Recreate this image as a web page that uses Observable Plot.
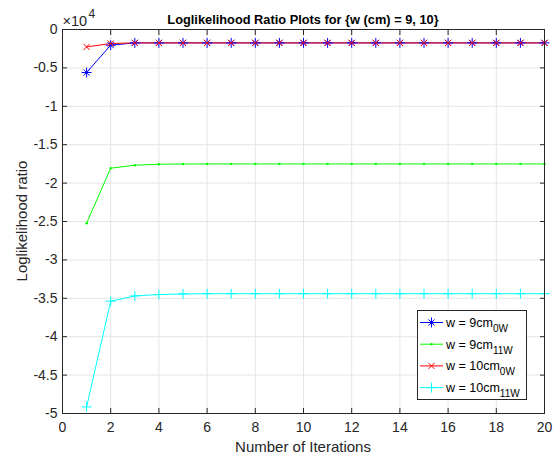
<!DOCTYPE html>
<html><head><meta charset="utf-8">
<script src="https://cdn.jsdelivr.net/npm/d3@7"></script>
<script src="https://cdn.jsdelivr.net/npm/@observablehq/plot@0.6"></script>
<style>
html,body{margin:0;padding:0;background:#fff;}
#chart{width:556px;height:458px;}
svg{font-family:"Liberation Sans",Arial,Helvetica,sans-serif;}
</style></head><body><div id="chart"></div>
<script>
const iterations = [1,2,3,4,5,6,7,8,9,10,11,12,13,14,15,16,17,18,19,20];
const w9_0W  = [-5600,-2040,-1745,-1745,-1745,-1745,-1745,-1745,-1745,-1745,-1745,-1745,-1745,-1745,-1745,-1745,-1745,-1745,-1745,-1745];
const w9_11W = [-25220,-18060,-17670,-17540,-17520,-17500,-17500,-17500,-17500,-17500,-17500,-17500,-17500,-17500,-17500,-17500,-17500,-17500,-17500,-17500];
const w10_0W = [-2270,-1820,-1745,-1745,-1745,-1745,-1745,-1745,-1745,-1745,-1745,-1745,-1745,-1745,-1745,-1745,-1745,-1745,-1745,-1745];
const w10_11W= [-49140,-35380,-34690,-34510,-34430,-34400,-34400,-34400,-34400,-34400,-34400,-34400,-34400,-34400,-34400,-34400,-34400,-34400,-34400,-34400];

const seriesValues = [w9_0W, w9_11W, w10_0W, w10_11W];
const legendMain = ["w = 9cm","w = 9cm","w = 10cm","w = 10cm"];
const legendSub  = ["0W","11W","0W","11W"];
const colors  = ["#0000ff","#00ff00","#ff0000","#00ffff"];
const markers = ["asterisk","point","times","plus"];

const xTicks = [0,2,4,6,8,10,12,14,16,18,20];
const yTicks = [-50000,-45000,-40000,-35000,-30000,-25000,-20000,-15000,-10000,-5000,0];
const yTickLabels = ["-5","-4.5","-4","-3.5","-3","-2.5","-2","-1.5","-1","-0.5","0"];

const titleText = "Loglikelihood Ratio Plots for {w (cm) = 9, 10}";
const xLabel = "Number of Iterations";
const yLabel = "Loglikelihood ratio";
const exponentBase = "\u00d710", exponentPow = "4";

const rows = [];
seriesValues.forEach((vals, s) => vals.forEach((v, i) => rows.push({s, iter: iterations[i], v})));

const ink = "#262626";
const gridC = "#e5e5e5";
const rPlus = 3.3, rTimes = 2.9;
const marks = [
  Plot.gridX(xTicks, {stroke: gridC, strokeOpacity: 1}),
  Plot.gridY(yTicks, {stroke: gridC, strokeOpacity: 1}),
];
seriesValues.forEach((vals, s) => {
  const data = rows.filter(r => r.s === s);
  marks.push(Plot.line(data, {x: "iter", y: "v", stroke: colors[s], strokeWidth: 1}));
});
seriesValues.forEach((vals, s) => {
  const data = rows.filter(r => r.s === s);
  const m = markers[s];
  if (m === "asterisk") {
    marks.push(Plot.dot(data, {x: "iter", y: "v", symbol: "plus", r: rPlus, stroke: colors[s], strokeWidth: 1}));
    marks.push(Plot.dot(data, {x: "iter", y: "v", symbol: "times", r: rTimes, stroke: colors[s], strokeWidth: 1}));
  } else if (m === "times") {
    marks.push(Plot.dot(data, {x: "iter", y: "v", symbol: "times", r: rTimes, stroke: colors[s], strokeWidth: 1}));
  } else if (m === "plus") {
    marks.push(Plot.dot(data, {x: "iter", y: "v", symbol: "plus", r: rPlus, stroke: colors[s], strokeWidth: 1}));
  } else {
    marks.push(Plot.dot(data, {x: "iter", y: "v", r: 1.2, fill: colors[s], stroke: null}));
  }
});
marks.push(
  Plot.frame({stroke: ink, strokeWidth: 1}),
  Plot.axisX(xTicks, {anchor: "bottom", tickSize: 0, tickPadding: 9, label: null, tickFormat: d => String(d), fontSize: 14, fill: ink}),
  Plot.axisX(xTicks, {anchor: "bottom", tickSize: -5, label: null, tickFormat: () => "", stroke: ink}),
  Plot.axisX(xTicks, {anchor: "top", tickSize: -5, label: null, tickFormat: () => "", stroke: ink}),
  Plot.axisY(yTicks, {anchor: "left", tickSize: 0, tickPadding: 5, label: null, tickFormat: d => yTickLabels[yTicks.indexOf(d)], fontSize: 14, fill: ink}),
  Plot.axisY(yTicks, {anchor: "left", tickSize: -5, label: null, tickFormat: () => "", stroke: ink}),
  Plot.axisY(yTicks, {anchor: "right", tickSize: -5, label: null, tickFormat: () => "", stroke: ink})
);

const plot = Plot.plot({
  width: 556, height: 458,
  marginLeft: 62, marginRight: 12, marginTop: 29, marginBottom: 45,
  style: {fontFamily: '"Liberation Sans",Arial,Helvetica,sans-serif', fontSize: "14px", color: ink, background: "#fff", overflow: "visible"},
  x: {domain: [0, 20]},
  y: {domain: [-50000, 0]},
  marks
});
document.getElementById("chart").appendChild(plot);

const svg = d3.select(plot);
const [xl, xr] = plot.scale("x").range;
const yr = plot.scale("y").range;
const yb = Math.max(...yr), yt = Math.min(...yr);
const font = '"Liberation Sans",Arial,Helvetica,sans-serif';

svg.append("text").attr("x", (xl + xr) / 2).attr("y", yt - 5.5)
  .attr("text-anchor", "middle").attr("font-weight", "bold").style("font-size", "12.8px")
  .attr("fill", "#000").attr("font-family", font).text(titleText);

const ex = svg.append("text").attr("x", xl + 0.5).attr("y", yt - 3.5).attr("text-anchor", "start")
  .style("font-size", "14.5px").attr("fill", ink).attr("font-family", font);
ex.append("tspan").style("font-size", "14.5px").text(exponentBase);
ex.append("tspan").style("font-size", "12px").attr("dy", -8).attr("dx", 1.5).text(exponentPow);

svg.append("text").attr("x", (xl + xr) / 2).attr("y", yb + 39)
  .attr("text-anchor", "middle").attr("font-size", 15).attr("fill", ink)
  .attr("font-family", font).text(xLabel);

svg.append("text").attr("transform", `translate(27,${(yt + yb) / 2}) rotate(-90)`)
  .attr("text-anchor", "middle").attr("font-size", 15).attr("fill", ink)
  .attr("font-family", font).text(yLabel);

// Legend
const lgR = xr - 18, lgB = yb - 14, lgW = 109, lgH = 89;
const lgX = lgR - lgW, lgY = lgB - lgH;
const lg = svg.append("g");
lg.append("rect").attr("x", lgX + 0.5).attr("y", lgY + 0.5).attr("width", lgW).attr("height", lgH)
  .attr("fill", "#fff").attr("stroke", ink).attr("stroke-width", 1);
const rowY = i => lgY + 12.5 + i * 21.7;
legendMain.forEach((t, i) => {
  const cy = rowY(i);
  const c = colors[i];
  lg.append("line").attr("x1", lgX + 3).attr("x2", lgX + 26).attr("y1", cy).attr("y2", cy)
    .attr("stroke", c).attr("stroke-width", 1);
  const mx = lgX + 14.5;
  const sym = (type, size) => lg.append("path").attr("d", d3.symbol(type, size)())
    .attr("transform", `translate(${mx},${cy})`).attr("fill", "none").attr("stroke", c).attr("stroke-width", 1);
  if (markers[i] === "asterisk") { sym(d3.symbolPlus, Math.PI * rPlus * rPlus); sym(d3.symbolTimes, Math.PI * rTimes * rTimes); }
  else if (markers[i] === "times") sym(d3.symbolTimes, Math.PI * rTimes * rTimes);
  else if (markers[i] === "plus") sym(d3.symbolPlus, Math.PI * rPlus * rPlus);
  else lg.append("circle").attr("cx", mx).attr("cy", cy).attr("r", 1.2).attr("fill", c);
  const tx = lg.append("text").attr("x", lgX + 29).attr("y", cy + 4.5).attr("text-anchor", "start")
    .attr("font-size", 12.5).attr("fill", "#000").attr("font-family", font);
  tx.append("tspan").text(t);
  tx.append("tspan").attr("font-size", 10).attr("dy", 5).text(legendSub[i]);
});
</script></body></html>
